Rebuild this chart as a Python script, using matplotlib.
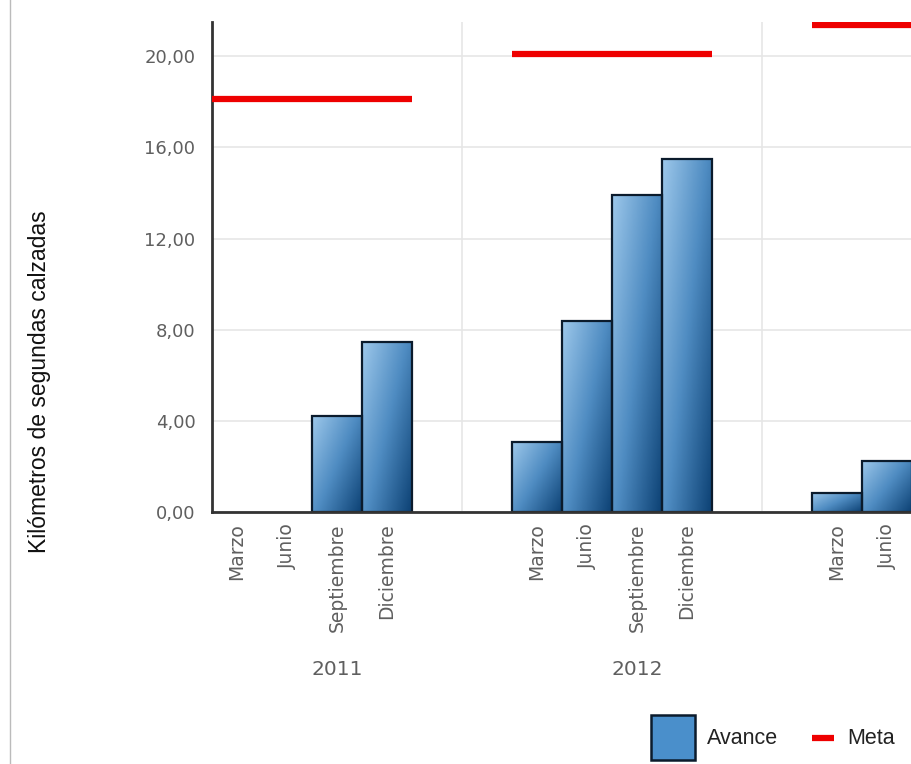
import numpy as np
import matplotlib.pyplot as plt
from matplotlib.colors import LinearSegmentedColormap
from matplotlib.patches import Rectangle
from matplotlib.lines import Line2D

# data
years = ['2011', '2012', '2013']
months = ['Marzo', 'Junio', 'Septiembre', 'Diciembre']
avance_2011 = [0.0, 0.0, 4.2, 7.45]
avance_2012 = [3.05, 8.38, 13.93, 15.48]
avance_2013 = [0.85, 2.25, 0.0, 0.0]
meta = [18.1, 20.1, 21.35]

avance = [avance_2011, avance_2012, avance_2013]

bar_cmap = LinearSegmentedColormap.from_list('avance', ['#9cc7ea', '#4f8cc2', '#0d4275'])
edge = '#0b1b2c'
grey = '#5f5f5f'

fig = plt.figure(figsize=(9.12, 7.64), dpi=100)
ax = fig.add_axes([212/912, 252/764, 700/912, 490/764])

group_step = 6   # 4 bars + 2 empty slots
xx, yy = np.meshgrid(np.linspace(0, 1, 40), np.linspace(0, 1, 80))
grad = 0.55*xx + 0.45*(1 - yy)

tick_pos = []
tick_lab = []
for g, vals in enumerate(avance):
    x0 = g*group_step
    for k, v in enumerate(vals):
        left = x0 + k
        tick_pos.append(left + 0.5)
        tick_lab.append(months[k])
        if v <= 0:
            continue
        im = ax.imshow(grad, cmap=bar_cmap, extent=(left, left + 1, 0, v), origin='lower',
                       aspect='auto', zorder=3, vmin=0, vmax=1)
        r = Rectangle((left, 0), 1, v, facecolor='none', edgecolor=edge, lw=1.6, zorder=4)
        ax.add_patch(r)
        im.set_clip_path(r)
    ax.plot([x0, x0 + 4], [meta[g], meta[g]], color='#ee0000', lw=4.5,
            solid_capstyle='butt', zorder=5, clip_on=True)

ax.set_yticks([0, 4, 8, 12, 16, 20])
ax.set_yticklabels(['0,00', '4,00', '8,00', '12,00', '16,00', '20,00'])
ax.set_xticks(tick_pos)
ax.set_xticklabels(tick_lab, rotation=90, va='top', ha='center')
ax.tick_params(axis='y', length=0, pad=12, labelsize=13, labelcolor=grey)
ax.tick_params(axis='x', length=0, pad=8, labelsize=13.5, labelcolor=grey)

# the chart is cut at the right edge, so the view stops mid 2013
ax.set_xlim(0, 14)
ax.set_ylim(0, 21.5)

ax.grid(axis='y', color='#e6e6e6', lw=1.2, zorder=0)
for s in [5, 11]:
    ax.axvline(s, color='#e6e6e6', lw=1.2, zorder=0)

for side in ['top', 'right']:
    ax.spines[side].set_visible(False)
ax.spines['left'].set_color('#333333')
ax.spines['left'].set_linewidth(2)
ax.spines['bottom'].set_color('#333333')
ax.spines['bottom'].set_linewidth(2)
ax.spines['bottom'].set_zorder(6)

# year labels under each group
for g, yr in enumerate(years):
    ax.text(g*group_step + 2.5, -6.9, yr, ha='center', va='center', fontsize=14.5,
            color=grey, clip_on=False)

fig.text(40/912, 1 - 382/764, 'Kilómetros de segundas calzadas', rotation=90,
         ha='center', va='center', fontsize=16.5, family='Liberation Sans', color='#111111')

# thin border line at the far left
fig.add_artist(Line2D([10/912, 10/912], [0, 1], color='#bbbbbb', lw=1))

# legend drawn by hand
fig.patches.append(Rectangle((651/912, 1 - 760/764), 44/912, 45/764, transform=fig.transFigure,
                             facecolor='#4a8fcb', edgecolor=edge, lw=1.8))
fig.text(707/912, 1 - 739/764, 'Avance', ha='left', va='center', fontsize=15.5,
         family='Liberation Sans', color='#222222')
fig.add_artist(Line2D([812/912, 834/912], [1 - 738/764, 1 - 738/764], color='#ee0000', lw=4.5,
                      solid_capstyle='butt'))
fig.text(847/912, 1 - 739/764, 'Meta', ha='left', va='center', fontsize=15.5,
         family='Liberation Sans', color='#222222')

fig.savefig('out.png', dpi=100)
